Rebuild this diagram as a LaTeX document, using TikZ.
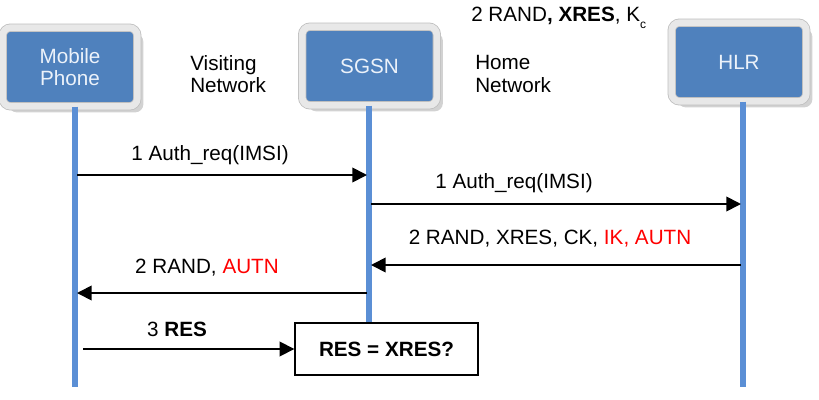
\documentclass[tikz,border=0pt]{standalone}
\usepackage{fontspec}
\setmainfont{Liberation Sans}
\usetikzlibrary{arrows.meta,shadows}
\definecolor{boxblue}{RGB}{79,129,189}
\definecolor{lifeblue}{RGB}{91,143,213}
\definecolor{boxtext}{RGB}{236,242,250}
\definecolor{framegray}{RGB}{232,232,232}
\newcommand{\hl}[1]{{\color{red}#1}}

\begin{document}
\begin{tikzpicture}[x=0.75pt,y=-0.75pt]
		\tikzstyle{every node}=[font=\fontsize{15.5}{17}\selectfont,inner sep=0pt]
		\tikzstyle{entity}=[fill=boxblue,draw=black!25,line width=.6pt,double=framegray,double distance=5pt,
			rounded corners=6pt,minimum width=101pt,minimum height=59pt,align=center,text=boxtext,
			drop shadow={shadow xshift=4.5pt,shadow yshift=-4.5pt,fill=black!35}]
		\tikzstyle{life}=[draw=lifeblue,line width=3.8pt]
		\tikzstyle{msg}=[line width=1.3pt,-{Triangle[length=11pt,width=11pt]}]
		\tikzstyle{check}=[draw,line width=1.3pt,fill=white,minimum width=137pt,minimum height=39pt,font=\fontsize{15.5}{17}\selectfont\bfseries]
		\def\yend{387}

		\useasboundingbox (0,0) rectangle (819,400);

		\node[entity] (mob) at (70,67) {Mobile\\Phone};
		\node[entity] (sgsn) at (369.5,66) {SGSN};
		\node[entity] (hlr) at (739,62) {HLR};

		\node[align=left,anchor=west] (visit) at (190,74) {Visiting\\Network};
		\node[align=left,anchor=west] (home) at (475,74) {Home\\Network};
		\node[anchor=west] (keys) at (471,18) {2 RAND\textbf{, XRES}, K\raisebox{-5pt}{\fontsize{9}{9}\selectfont c}};

		\node[check] (chk) at (386.5,349) {RES = XRES?};

		\coordinate (mobB) at (75,\yend);
		\coordinate (sgsnB) at (369,323);
		\coordinate (hlrB) at (743,\yend);
		\draw[life] (mob.south -| mobB) -- (mobB);
		\draw[life] (sgsn.south -| sgsnB) -- (chk.north -| sgsnB);
		\draw[life] (hlr.south -| hlrB) -- (hlrB);

		\coordinate (a1) at (77,175);  \coordinate (b1) at (367,175);
		\coordinate (a2) at (371,204); \coordinate (b2) at (741,204);
		\coordinate (a3) at (741,265); \coordinate (b3) at (371,265);
		\coordinate (a4) at (367,293); \coordinate (b4) at (77,293);
		\coordinate (a5) at (83,349);

		\draw[msg] (a1) -- (b1);
		\draw[msg] (a2) -- (b2);
		\draw[msg] (a3) -- (b3);
		\draw[msg] (a4) -- (b4);
		\draw[msg] (a5) -- (chk.west);

		\node (l1) at (210,155) {1 Auth\_req(IMSI)};
		\node (l2) at (514,183) {1 Auth\_req(IMSI)};
		\node (l3) at (550,239) {2 RAND, XRES, CK, \hl{IK, AUTN}};
		\node (l4) at (207,268) {2 RAND, \hl{AUTN}};
		\node (l5) at (177,329) {3 \textbf{RES}};
	\end{tikzpicture}
\end{document}
